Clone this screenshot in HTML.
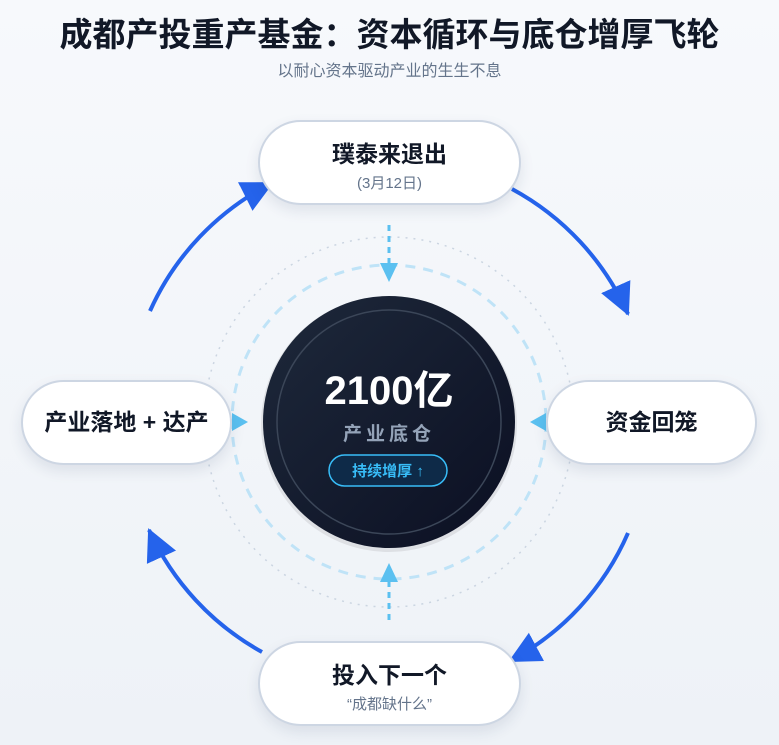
<!DOCTYPE html>
<html><head><meta charset="utf-8"><style>
html,body{margin:0;padding:0}
body{width:779px;height:745px;overflow:hidden;background:linear-gradient(#f7f9fc,#eef2f7);font-family:"Liberation Sans","Noto Sans CJK SC",sans-serif;position:relative}
.t{position:absolute;left:0;width:779px;text-align:center}
.pill{position:absolute;background:#fff;border:2px solid #cdd6e3;border-radius:44px;box-shadow:0 6px 14px rgba(30,50,90,.10);text-align:center;box-sizing:border-box;color:#111827;font-weight:bold}
</style></head><body>
<div class="t" style="top:8px;font-size:33px;font-weight:bold;color:#111827">成都产投重产基金：资本循环与底仓增厚飞轮</div>
<div class="t" style="top:57px;font-size:16px;color:#64748b">以耐心资本驱动产业的生生不息</div>
<svg width="779" height="745" style="position:absolute;left:0;top:0">
<defs>
<marker id="a" markerUnits="userSpaceOnUse" markerWidth="40" markerHeight="40" refX="30" refY="16" orient="auto"><path d="M0,0 L32,16 L0,32 Z" fill="#2563eb"/></marker>
<linearGradient id="g" x1="0" y1="0" x2="1" y2="1"><stop offset="0" stop-color="#1e293b"/><stop offset="1" stop-color="#0b0f22"/></linearGradient>
</defs>
<circle cx="389" cy="422" r="185" fill="none" stroke="#cbd5e1" stroke-width="1.5" stroke-dasharray="2 6"/>
<circle cx="389" cy="422" r="157" fill="none" stroke="#bfe3f7" stroke-width="3" stroke-dasharray="10 8"/>
<path d="M150,311 A265,265 0 0 1 272,183" fill="none" stroke="#2563eb" stroke-width="4" marker-end="url(#a)"/>
<path d="M512,189 A265,265 0 0 1 628,314" fill="none" stroke="#2563eb" stroke-width="4" marker-end="url(#a)"/>
<path d="M628,533 A265,265 0 0 1 510,661" fill="none" stroke="#2563eb" stroke-width="4" marker-end="url(#a)"/>
<path d="M262,652 A265,265 0 0 1 149,530" fill="none" stroke="#2563eb" stroke-width="4" marker-end="url(#a)"/>
<line x1="389" y1="225" x2="389" y2="265" stroke="#5bc0f0" stroke-width="3" stroke-dasharray="6 5"/>
<path d="M380,263 L398,263 L389,282 Z" fill="#5bc0f0"/>
<line x1="389" y1="620" x2="389" y2="580" stroke="#5bc0f0" stroke-width="3" stroke-dasharray="6 5"/>
<path d="M380,582 L398,582 L389,563 Z" fill="#5bc0f0"/>
<path d="M232,413 L232,431 L248,422 Z" fill="#5bc0f0"/>
<path d="M546,413 L546,431 L530,422 Z" fill="#5bc0f0"/>
<circle cx="389" cy="424" r="128" fill="#000" opacity="0.08"/>
<circle cx="389" cy="422" r="126" fill="url(#g)"/>
<circle cx="389" cy="422" r="112" fill="none" stroke="#3b4658" stroke-width="1.5"/>
<text x="389" y="404" text-anchor="middle" font-size="40" font-weight="bold" fill="#fff" font-family="Liberation Sans,Noto Sans CJK SC,sans-serif">2100亿</text>
<text x="389" y="440" text-anchor="middle" font-size="19" font-weight="bold" fill="#94a3b8" letter-spacing="4" font-family="Liberation Sans,Noto Sans CJK SC,sans-serif">产业底仓</text>
<rect x="329" y="455" width="118" height="31" rx="15.5" fill="#0e2a48" stroke="#38bdf8" stroke-width="1.5"/>
<text x="388" y="476" text-anchor="middle" font-size="15" font-weight="bold" fill="#38bdf8" font-family="Liberation Sans,Noto Sans CJK SC,sans-serif">持续增厚 ↑</text>
</svg>
<div class="pill" style="left:258px;top:120px;width:263px;height:85px"><div style="font-size:23px;margin-top:13px">璞泰来退出</div><div style="font-size:15px;color:#64748b;font-weight:normal;margin-top:3px">(3月12日)</div></div>
<div class="pill" style="left:546px;top:380px;width:211px;height:85px;font-size:23px;line-height:81px">资金回笼</div>
<div class="pill" style="left:21px;top:380px;width:211px;height:85px;font-size:23px;line-height:81px">产业落地 + 达产</div>
<div class="pill" style="left:258px;top:641px;width:263px;height:85px"><div style="font-size:23px;margin-top:13px">投入下一个</div><div style="font-size:15px;color:#64748b;font-weight:normal;margin-top:3px">“成都缺什么”</div></div>
</body></html>
